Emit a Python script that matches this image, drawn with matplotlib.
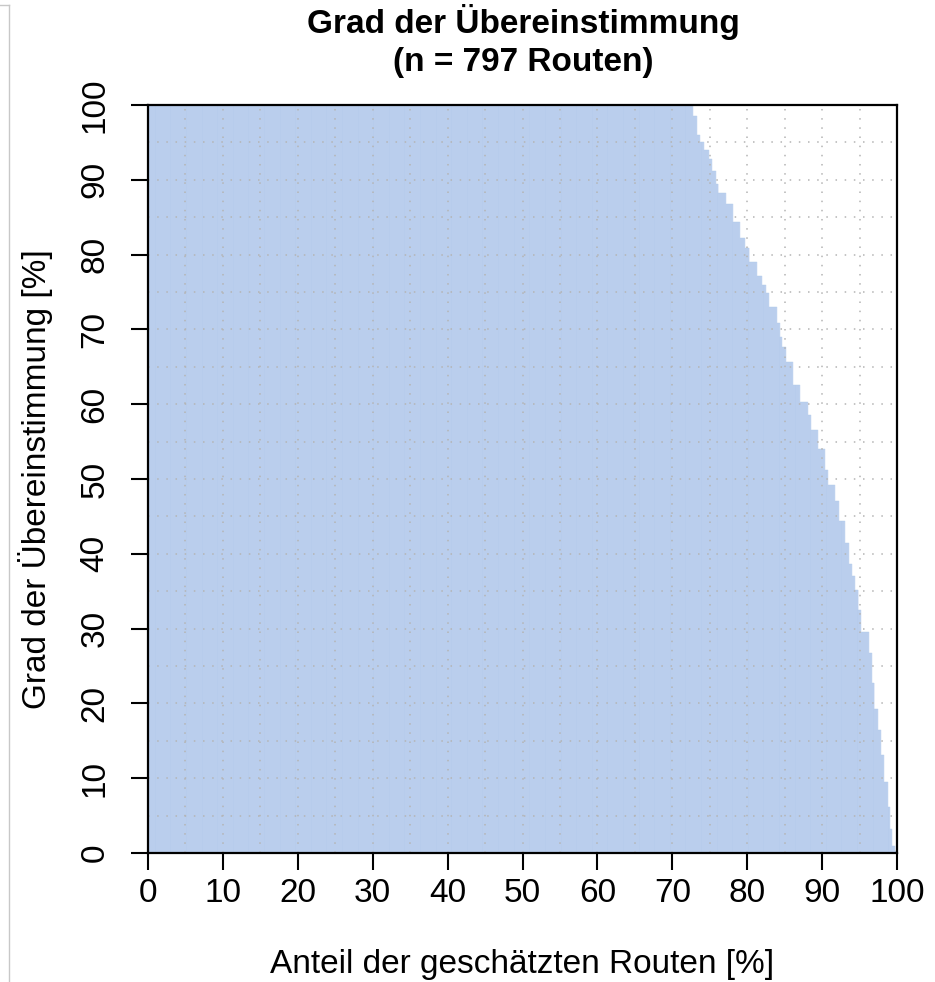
import numpy as np
import matplotlib
matplotlib.use("Agg")
import matplotlib.pyplot as plt
from matplotlib.lines import Line2D

# route agreement, sorted descending, stored as (value, run length)
n_routes = 797
full_count = 580
tail_values = [98.5, 96, 95, 94, 92.8, 91.2, 89.5, 88.2, 86.7, 84.3,
               82.2, 80.9, 79, 77.2, 75.9, 74.8, 73, 70.8, 69, 67.7,
               65.7, 62.6, 60.3, 58.5, 56.6, 54, 51.2, 49.2, 47, 44.4,
               41.4, 38.7, 37, 35.2, 32.5, 29.6, 26.7, 22.7, 19.3, 16.5,
               13.1, 9.5, 6.2, 3.2, 1.0, 0.3]
tail_counts = [4, 3, 5, 5, 3, 4, 3, 8, 7, 8,
               5, 5, 8, 5, 5, 3, 8, 3, 3, 4,
               7, 8, 8, 3, 8, 7, 4, 7, 4, 7,
               4, 3, 3, 4, 3, 8, 3, 3, 4, 3,
               3, 4, 3, 2, 3, 2]
x_ticks = [0, 10, 20, 30, 40, 50, 60, 70, 80, 90, 100]
y_ticks = [0, 10, 20, 30, 40, 50, 60, 70, 80, 90, 100]

values = np.concatenate([np.full(full_count, 100.0),
                         np.repeat(tail_values, tail_counts)])
width = 100.0 / n_routes
xpos = np.arange(len(values)) * width

plt.rcParams['font.family'] = ['Liberation Sans', 'DejaVu Sans']

W, H = 935, 982
fig = plt.figure(figsize=(W / 100, H / 100), dpi=100)
ax = fig.add_axes([148 / W, 1 - 853 / H, (897 - 148) / W, (853 - 105) / H])

ax.bar(xpos, values, width=width, align='edge', color='#c6d8f1',
       edgecolor='#acc5ea', linewidth=0.25, zorder=1)

for g in np.arange(5, 100, 5):
    ax.axvline(g, color='#b4b4b4', lw=1.1, ls=(0, (1, 5)), zorder=2)
    ax.axhline(g, color='#b4b4b4', lw=1.1, ls=(0, (1, 5)), zorder=2)

ax.set_xlim(0, 100)
ax.set_ylim(0, 100)
ax.set_xticks(x_ticks)
ax.set_yticks(y_ticks)
ax.tick_params(axis='both', direction='out', length=12, width=1.5,
               labelsize=24, colors='black')
ax.tick_params(axis='x', pad=6)
ax.tick_params(axis='y', pad=15)
for lab in ax.get_yticklabels():
    lab.set_rotation(90)
    lab.set_va('center')
for s in ax.spines.values():
    s.set_linewidth(1.6)

fig.text(523 / W, 1 - 22 / H, "Grad der Übereinstimmung", ha='center',
         va='center', fontsize=24, fontweight='bold')
fig.text(523 / W, 1 - 63 / H, "(n = 797 Routen)", ha='center',
         va='center', fontsize=24, fontweight='bold')
fig.text(522 / W, 1 - 965 / H, "Anteil der geschätzten Routen [%]",
         ha='center', va='center', fontsize=24)
fig.text(36 / W, 1 - 479 / H, "Grad der Übereinstimmung [%]", ha='center',
         va='center', rotation=90, fontsize=24)

# faint frame edge at top-left of the original image
fig.add_artist(Line2D([9 / W, 9 / W], [0, 1 - 5 / H], color='#c8c8c8', lw=1))
fig.add_artist(Line2D([0, 9 / W], [1 - 5 / H, 1 - 5 / H], color='#c8c8c8', lw=1))

fig.savefig("out.png", dpi=100)
